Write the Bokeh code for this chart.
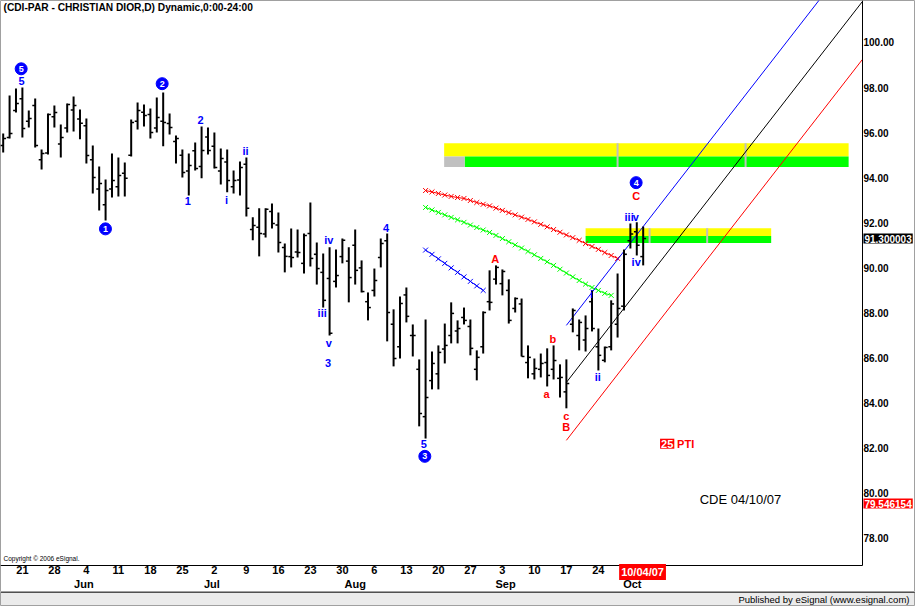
from bokeh.plotting import figure
from bokeh.models import Range1d, LinearAxis, FixedTicker, NumeralTickFormatter, Label, Span
from bokeh.layouts import column
from bokeh.embed import file_html
from bokeh.resources import INLINE
from bokeh.core.properties import value

# ---------------- data ----------------
opens = [95.43, 95.78, 96.98, 97.50, 96.50, 97.20, 94.80, 95.10, 96.70, 95.50,
         96.20, 97.00, 96.60, 96.30, 94.80, 93.50, 92.80, 93.50, 93.60, 94.20,
         95.00, 96.50, 96.90, 96.80, 96.20, 96.50, 96.40, 95.60, 95.00, 94.30,
         95.20, 94.50, 95.80, 95.40, 94.30, 94.70, 93.60, 93.90, 94.60, 91.70,
         91.80, 91.50, 92.50, 91.90, 90.90, 90.50, 90.70, 90.20, 91.53, 90.60,
         89.80, 89.53, 89.40, 90.50, 90.30, 91.00, 90.00, 88.50, 89.00, 90.46,
         91.20, 87.50, 86.50, 88.80, 87.00, 85.50, 83.40, 85.00, 85.30, 86.40,
         87.00, 87.20, 87.80, 87.40, 85.50, 86.50, 88.50, 89.50, 89.30, 89.00,
         88.20, 88.40, 85.80, 85.30, 85.50, 85.80, 85.50, 85.10, 84.50, 87.50,
         87.00, 86.80, 88.50, 86.50, 85.90, 86.50, 87.50, 88.30, 91.20, 91.60,
         90.50]
highs = [95.96, 97.65, 97.96, 98.00, 96.98, 97.51, 95.25, 96.85, 97.20, 96.36,
         97.29, 97.60, 97.03, 96.63, 95.43, 94.50, 93.92, 95.07, 94.90, 94.67,
         96.58, 97.34, 97.25, 97.07, 97.56, 97.78, 96.85, 95.87, 95.25, 95.07,
         95.56, 96.27, 96.23, 96.01, 95.30, 95.25, 94.32, 94.72, 94.90, 92.24,
         92.64, 92.64, 92.86, 92.46, 91.08, 91.75, 91.70, 91.53, 92.90, 91.13,
         90.64, 90.91, 90.82, 91.30, 90.91, 91.70, 90.33, 88.91, 89.97, 91.30,
         91.53, 88.16, 88.73, 89.13, 87.49, 85.94, 87.71, 86.29, 86.56, 87.53,
         88.47, 87.67, 88.24, 87.71, 86.34, 88.07, 89.89, 90.11, 89.93, 89.49,
         88.69, 88.64, 86.56, 85.98, 86.20, 86.43, 86.56, 85.72, 85.94, 88.20,
         87.71, 87.89, 89.00, 87.31, 86.51, 88.56, 89.75, 90.82, 91.97, 92.02,
         91.84]
lows = [95.12, 95.74, 96.89, 95.78, 96.23, 95.34, 94.36, 95.03, 96.23, 94.90,
        96.01, 96.05, 95.70, 94.63, 93.30, 92.55, 92.10, 93.12, 93.17, 93.17,
        94.94, 96.14, 96.27, 95.74, 96.01, 95.39, 95.92, 94.63, 94.01, 93.21,
        94.32, 93.97, 95.03, 94.41, 93.70, 93.35, 93.30, 93.21, 92.28, 91.22,
        90.51, 91.35, 91.75, 90.68, 89.80, 90.02, 90.46, 89.75, 90.06, 89.26,
        88.24, 87.00, 89.13, 90.20, 88.47, 89.26, 88.91, 87.67, 88.73, 90.02,
        86.74, 85.63, 85.98, 87.58, 86.07, 82.97, 82.43, 84.61, 84.61, 85.76,
        86.65, 86.65, 87.49, 86.12, 85.01, 86.20, 88.11, 89.26, 88.78, 87.53,
        88.02, 86.07, 85.10, 85.05, 85.14, 84.74, 85.05, 84.25, 83.77, 87.14,
        86.34, 86.29, 87.18, 85.45, 85.81, 86.34, 86.91, 88.11, 90.86, 90.55,
        90.11]
closes = [95.74, 95.96, 97.29, 96.18, 96.63, 95.43, 95.07, 96.80, 96.89, 95.78,
          97.25, 97.20, 96.41, 94.99, 94.01, 93.74, 93.43, 93.88, 94.10, 93.97,
          96.45, 96.98, 96.76, 96.01, 96.67, 96.45, 96.23, 95.74, 94.23, 94.54,
          94.41, 95.21, 95.21, 94.45, 94.85, 93.88, 93.88, 94.45, 92.64, 91.88,
          91.53, 92.60, 91.97, 91.13, 90.51, 90.46, 90.68, 91.44, 90.42, 89.97,
          88.56, 87.10, 89.66, 91.22, 89.57, 89.89, 88.95, 88.24, 89.44, 91.08,
          88.02, 85.98, 88.42, 87.85, 87.00, 83.54, 84.25, 85.76, 86.25, 86.56,
          87.98, 87.31, 87.67, 86.43, 86.03, 88.02, 88.47, 90.02, 89.84, 87.67,
          88.64, 86.07, 86.03, 85.54, 85.76, 85.23, 85.89, 85.14, 84.87, 88.11,
          87.58, 87.31, 87.31, 86.12, 86.47, 88.40, 88.20, 90.60, 91.50, 91.00,
          91.30]

# moving-average style curves (x = bar index)
red_ma_x = list(range(66, 97))
red_ma = [93.43, 93.37, 93.30, 93.23, 93.17, 93.12, 93.08, 92.99, 92.90, 92.82,
          92.75, 92.65, 92.55, 92.45, 92.35, 92.25, 92.15, 92.04, 91.93, 91.82,
          91.70, 91.58, 91.46, 91.34, 91.22, 91.08, 90.95, 90.82, 90.68, 90.55,
          90.42]
green_ma_x = list(range(66, 96))
green_ma = [92.68, 92.57, 92.46, 92.35, 92.24, 92.13, 92.02, 91.90, 91.79, 91.68,
            91.57, 91.44, 91.30, 91.16, 91.02, 90.88, 90.73, 90.58, 90.42, 90.27,
            90.11, 89.94, 89.77, 89.60, 89.44, 89.28, 89.13, 89.00, 88.87, 88.78]
blue_ma_x = list(range(66, 76))
blue_ma = [90.79, 90.60, 90.40, 90.20, 90.00, 89.80, 89.60, 89.40, 89.20, 89.00]

# channel lines (start at bar 88, end at the price axis)
channel_x = [88, 134.27]
channel_blue = [87.45, 104.35]
channel_black = [84.92, 101.82]
channel_red = [82.35, 99.25]

# zones
zone_left = [68.9, 91.0]
zone_green_left = [72.1, 91.0]
zone_right = [132.1, 120.0]
zone_yellow_top = [95.53, 91.76]
zone_mid = [94.94, 91.41]
zone_green_bottom = [94.47, 91.10]
zone_grey_left = [68.9]
zone_grey_right = [72.1]
zone_grey_top = [94.94]
zone_grey_bottom = [94.47]
zone_sep_x = [96.0, 116.0, 101.0, 110.0]
zone_sep_bottom = [94.47, 94.47, 91.10, 91.10]
zone_sep_top = [95.53, 95.53, 91.76, 91.76]

# wave labels
circle_text = ["5", "2", "1", "3", "4"]
circle_x = [2.81, 24.84, 15.98, 65.88, 98.9]
circle_y = [98.83, 98.17, 91.73, 81.64, 93.78]

blue_text = ["5", "2", "ii", "1", "i", "iv", "iii", "v", "3", "4", "5",
             "i", "ii", "iii", "v", "iv"]
blue_x = [2.86, 30.83, 37.86, 28.84, 34.89, 50.88, 49.84, 50.88, 50.78, 59.84, 65.72,
          91.92, 92.91, 97.8, 98.85, 98.91]
blue_y = [98.27, 96.58, 95.18, 92.96, 93.02, 91.22, 87.99, 86.66, 85.77, 91.78, 82.20,
          88.82, 85.15, 92.25, 92.25, 90.25]

red_text = ["C", "A", "b", "a", "c", "B"]
red_x = [98.91, 76.88, 85.88, 84.89, 87.97, 87.97]
red_y = [93.18, 90.40, 86.86, 84.42, 83.41, 82.95]

# axes
price_ticks = [78, 80, 82, 84, 86, 88, 90, 92, 94, 96, 98, 100]
day_ticks = [3, 8, 13, 18, 23, 28, 33, 38, 43, 48, 53, 58, 63, 68, 73, 78, 83, 88, 93]
day_labels = ["21", "28", "4", "11", "18", "25", "2", "9", "16", "23", "30", "6",
              "13", "20", "27", "3", "10", "17", "24"]
month_ticks = [12.6, 32.6, 55.0, 78.5, 98.3]
month_labels = ["Jun", "Jul", "Aug", "Sep", "Oct"]

last_close = 91.300003
red_marker_value = 79.546154
last_date = "10/04/07"

# chart area limits (bar index / price) inside the whole canvas
X_MIN, X_AXIS, X_MAX = -0.42, 134.27, 142.55
Y_AXIS, Y_TOP, Y_MIN = 76.80, 101.86, 75.60

FONT = "Liberation Sans"

# ---------------- figure ----------------
p = figure(width=915, height=592, output_backend="svg", toolbar_location=None,
           x_range=Range1d(X_MIN, X_MAX), y_range=Range1d(Y_MIN, Y_TOP),
           x_axis_type=None, y_axis_type=None, min_border=0,
           background_fill_color="white", border_fill_color="white",
           outline_line_color="#a0a0a0")

# zones
p.quad(left=zone_left, right=zone_right, bottom=zone_mid, top=zone_yellow_top,
       fill_color="#ffff00", line_color=None)
p.quad(left=zone_green_left, right=zone_right, bottom=zone_green_bottom, top=zone_mid,
       fill_color="#00ff00", line_color=None)
p.quad(left=zone_grey_left, right=zone_grey_right, bottom=zone_grey_bottom, top=zone_grey_top,
       fill_color="#c0c0c0", line_color=None)
p.segment(x0=zone_sep_x, x1=zone_sep_x, y0=zone_sep_bottom, y1=zone_sep_top,
          line_color="#c0c0c0", line_width=2)

# moving averages
for xs, ys, col in [(red_ma_x, red_ma, "#ff0000"), (green_ma_x, green_ma, "#00ff00"),
                    (blue_ma_x, blue_ma, "#0000ff")]:
    p.line(xs, ys, line_color=col, line_width=1)
    p.scatter(xs, ys, marker="x", size=7, line_color=col, line_width=1)

# channel
p.line(channel_x, channel_blue, line_color="#0000ff", line_width=1)
p.line(channel_x, channel_black, line_color="#000000", line_width=1)
p.line(channel_x, channel_red, line_color="#ff0000", line_width=1)

# OHLC bars
idx = list(range(len(highs)))
p.segment(x0=idx, x1=idx, y0=lows, y1=highs, line_color="black", line_width=2)
p.segment(x0=[i - 0.45 for i in idx], x1=idx, y0=opens, y1=opens,
          line_color="black", line_width=1.5)
p.segment(x0=idx, x1=[i + 0.45 for i in idx], y0=closes, y1=closes,
          line_color="black", line_width=1.5)

# wave labels
p.scatter(circle_x, circle_y, marker="circle", size=12, fill_color="#0000ff", line_color="#0000ff")
p.text(circle_x, circle_y, text=circle_text, text_color="white", text_font=value(FONT),
       text_font_style="bold", text_font_size="9px", text_align="center", text_baseline="middle")
p.text(blue_x, blue_y, text=blue_text, text_color="#0000ff", text_font=value(FONT),
       text_font_style="bold", text_font_size="11px", text_align="center", text_baseline="middle")
p.text(red_x, red_y, text=red_text, text_color="#ff0000", text_font=value(FONT),
       text_font_style="bold", text_font_size="11px", text_align="center", text_baseline="middle")

# other annotations
p.add_layout(Label(x=0.05, y=101.55, text="(CDI-PAR - CHRISTIAN DIOR,D) Dynamic,0:00-24:00",
                   text_font=FONT, text_font_style="bold", text_font_size="10.2px",
                   text_baseline="middle", text_color="black"))
p.add_layout(Label(x=0.05, y=77.11, text="Copyright \u00a9 2006 eSignal.",
                   text_font=FONT, text_font_size="6.5px", text_baseline="middle",
                   text_color="black"))
p.add_layout(Label(x=103.75, y=82.20, text="25", text_font=FONT, text_font_style="bold",
                   text_font_size="11px", text_color="white", text_align="center",
                   text_baseline="middle", background_fill_color="#ff0000", padding=1))
p.add_layout(Label(x=105.3, y=82.20, text="PTI", text_font=FONT, text_font_style="bold",
                   text_font_size="11px", text_color="#ff0000", text_align="left",
                   text_baseline="middle"))
p.add_layout(Label(x=115.2, y=79.73, text="CDE 04/10/07", text_font=FONT,
                   text_font_size="13px", text_color="black", text_align="center",
                   text_baseline="middle"))

# axes (fixed inside the canvas-wide frame)
axis_style = dict(major_tick_out=0, major_tick_in=0, minor_tick_out=0, minor_tick_in=0,
                  major_label_text_font=FONT, major_label_text_font_style="bold",
                  major_label_text_color="black")
yaxis = LinearAxis(ticker=FixedTicker(ticks=price_ticks),
                   formatter=NumeralTickFormatter(format="0.00"),
                   fixed_location=X_AXIS, bounds=(Y_AXIS, Y_TOP),
                   major_label_standoff=1, axis_line_color="black",
                   major_label_text_font_size="10px", **axis_style)
p.add_layout(yaxis, "right")

xaxis = LinearAxis(ticker=FixedTicker(ticks=day_ticks),
                   major_label_overrides={t: s for t, s in zip(day_ticks, day_labels)},
                   fixed_location=Y_AXIS, bounds=(X_MIN, X_AXIS),
                   major_label_standoff=1, axis_line_color="black",
                   major_label_text_font_size="11px", **axis_style)
p.add_layout(xaxis, "below")
maxis = LinearAxis(ticker=FixedTicker(ticks=month_ticks),
                   major_label_overrides={t: s for t, s in zip(month_ticks, month_labels)},
                   fixed_location=Y_AXIS, bounds=(X_MIN, X_AXIS),
                   major_label_standoff=13, axis_line_color=None,
                   major_label_text_font_size="11px", **axis_style)
p.add_layout(maxis, "below")

# value boxes on the axes
p.add_layout(Label(x=134.42, y=last_close, text="91.300003", text_font=FONT,
                   text_font_style="bold", text_font_size="10px", text_color="white",
                   text_align="left", text_baseline="middle",
                   background_fill_color="black", padding=1))
p.add_layout(Label(x=134.42, y=red_marker_value, text="79.546154", text_font=FONT,
                   text_font_style="bold", text_font_size="10px", text_color="white",
                   text_align="left", text_baseline="middle",
                   background_fill_color="#ff0000", padding=1))
p.add_layout(Label(x=99.9, y=76.51, text=last_date, text_font=FONT,
                   text_font_style="bold", text_font_size="11px", text_color="white",
                   text_align="center", text_baseline="middle",
                   background_fill_color="#ff0000", padding=2))

# footer
f = figure(width=915, height=14, output_backend="svg", toolbar_location=None,
           x_range=Range1d(0, 1), y_range=Range1d(0, 1), x_axis_type=None, y_axis_type=None,
           min_border=0, background_fill_color="#ebebeb", border_fill_color="#ebebeb",
           outline_line_color="#a0a0a0")
f.add_layout(Span(location=1, dimension="width", line_color="black", line_width=1))
f.add_layout(Label(x=0.9934, y=0.5, text="Published by eSignal (www.esignal.com)",
                   text_font=FONT, text_font_size="9.5px", text_color="black",
                   text_align="right", text_baseline="middle"))

layout = column(p, f, spacing=0)
open("out.html", "w").write(file_html(layout, INLINE))
